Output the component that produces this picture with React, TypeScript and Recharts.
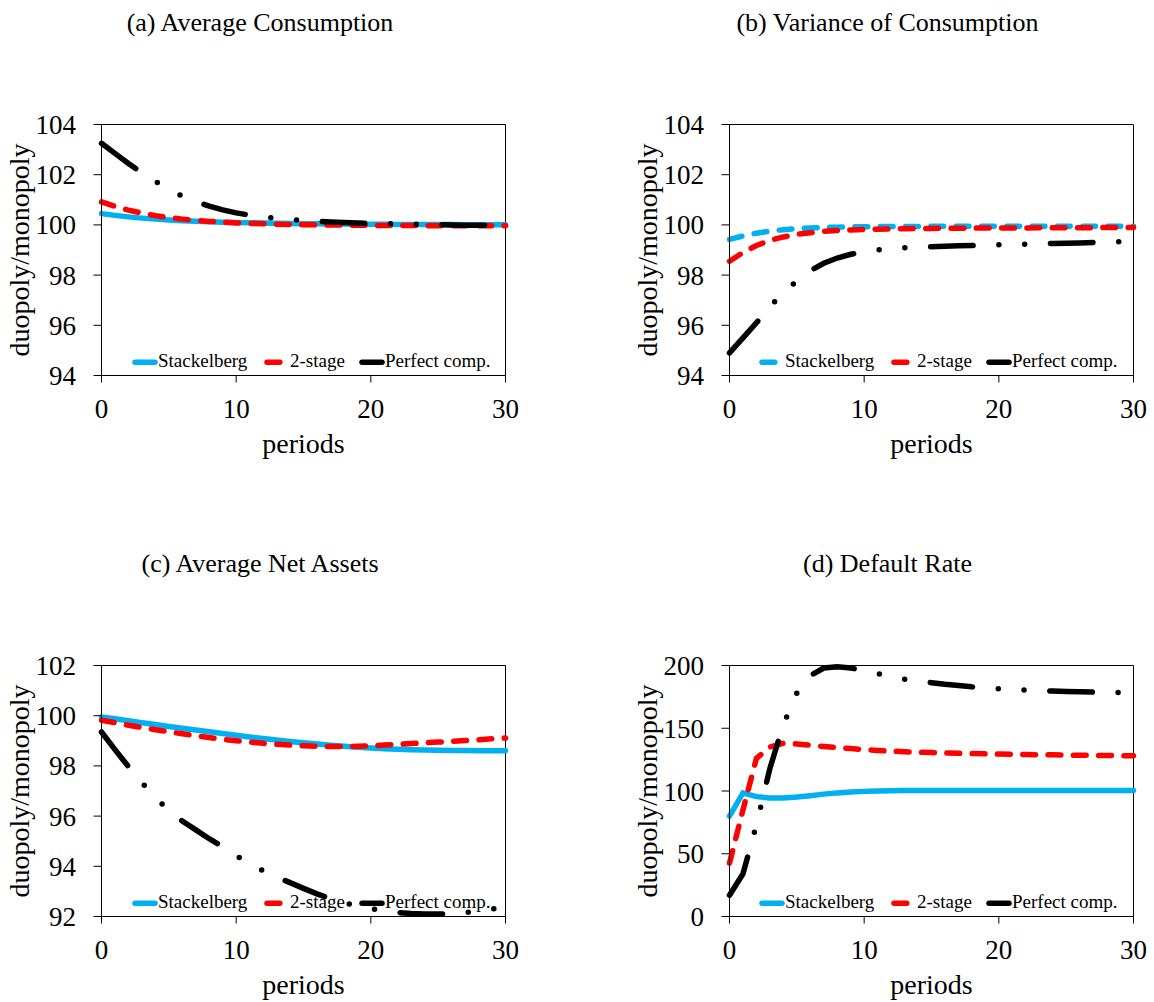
import React from 'react'
import { LineChart, Line, XAxis, YAxis, ReferenceLine, Legend } from 'recharts'

// x axis: periods after the change of market structure
const periods = [0, 1, 2, 3, 4, 5, 6, 7, 8, 9, 10, 11, 12, 13, 14, 15, 16, 17, 18, 19, 20, 21, 22, 23, 24, 25, 26, 27, 28, 29, 30]

// (a) Average Consumption
const consStackelberg = [100.45, 100.38, 100.32, 100.27, 100.23, 100.2, 100.17, 100.15, 100.13, 100.11, 100.1, 100.09, 100.08, 100.07, 100.06, 100.05, 100.05, 100.04, 100.04, 100.03, 100.03, 100.03, 100.02, 100.02, 100.02, 100.02, 100.02, 100.01, 100.01, 100.01, 100.01]
const consTwoStage = [100.92, 100.74, 100.59, 100.47, 100.37, 100.29, 100.23, 100.18, 100.14, 100.11, 100.08, 100.06, 100.05, 100.03, 100.02, 100.01, 100.0, 100.0, 99.99, 99.99, 99.98, 99.98, 99.98, 99.98, 99.97, 99.97, 99.97, 99.97, 99.97, 99.97, 99.97]
const consPerfect = [103.25, 102.85, 102.45, 102.07, 101.73, 101.42, 101.15, 100.93, 100.75, 100.6, 100.48, 100.39, 100.32, 100.26, 100.21, 100.18, 100.15, 100.12, 100.1, 100.08, 100.06, 100.05, 100.04, 100.03, 100.02, 100.01, 100.0, 99.99, 99.99, 99.98, 99.98]

// (b) Variance of Consumption
const varStackelberg = [99.42, 99.56, 99.67, 99.75, 99.81, 99.85, 99.88, 99.9, 99.91, 99.92, 99.93, 99.93, 99.94, 99.94, 99.94, 99.95, 99.95, 99.95, 99.95, 99.95, 99.95, 99.95, 99.95, 99.95, 99.95, 99.95, 99.95, 99.95, 99.95, 99.95, 99.95]
const varTwoStage = [98.55, 98.9, 99.18, 99.38, 99.52, 99.62, 99.69, 99.74, 99.78, 99.8, 99.82, 99.83, 99.84, 99.85, 99.86, 99.86, 99.87, 99.87, 99.87, 99.88, 99.88, 99.88, 99.88, 99.89, 99.89, 99.89, 99.89, 99.89, 99.9, 99.9, 99.9]
const varPerfect = [94.9, 95.5, 96.1, 96.75, 97.3, 97.77, 98.17, 98.47, 98.68, 98.83, 98.93, 99.0, 99.05, 99.09, 99.11, 99.13, 99.15, 99.17, 99.18, 99.2, 99.21, 99.22, 99.23, 99.25, 99.26, 99.27, 99.28, 99.3, 99.31, 99.33, 99.34]

// (c) Average Net Assets
const assetsStackelberg = [99.95, 99.88, 99.8, 99.72, 99.65, 99.57, 99.5, 99.43, 99.36, 99.29, 99.22, 99.15, 99.09, 99.03, 98.97, 98.92, 98.87, 98.82, 98.78, 98.74, 98.71, 98.68, 98.66, 98.64, 98.63, 98.62, 98.61, 98.61, 98.6, 98.6, 98.6]
const assetsTwoStage = [99.82, 99.72, 99.62, 99.53, 99.44, 99.36, 99.28, 99.2, 99.13, 99.06, 99.0, 98.95, 98.9, 98.86, 98.83, 98.8, 98.78, 98.77, 98.77, 98.78, 98.8, 98.83, 98.86, 98.89, 98.92, 98.95, 98.98, 99.01, 99.04, 99.08, 99.11]
const assetsPerfect = [99.35, 98.65, 97.97, 97.33, 96.75, 96.22, 95.8, 95.45, 95.1, 94.78, 94.43, 94.1, 93.82, 93.57, 93.35, 93.12, 92.9, 92.71, 92.55, 92.42, 92.31, 92.23, 92.16, 92.12, 92.1, 92.1, 92.11, 92.15, 92.22, 92.3, 92.4]

// (d) Default Rate
const defaultStackelberg = [80, 98.5, 95.5, 94.5, 94.4, 95.2, 96.3, 97.5, 98.5, 99.2, 99.7, 100, 100.2, 100.3, 100.4, 100.4, 100.4, 100.4, 100.4, 100.4, 100.4, 100.4, 100.4, 100.4, 100.4, 100.4, 100.4, 100.4, 100.4, 100.4, 100.4]
const defaultTwoStage = [42.5, 85, 126, 135, 138, 137.5, 136.5, 135.5, 134.5, 133.8, 133, 132.3, 131.8, 131.3, 130.9, 130.6, 130.3, 130, 129.8, 129.6, 129.4, 129.2, 129, 128.9, 128.8, 128.6, 128.5, 128.4, 128.3, 128.2, 128.1]
const defaultPerfect = [17, 34, 73, 118, 153, 178, 192, 198, 199, 198, 196, 193.5, 191, 189, 187.5, 186.3, 185, 184, 183, 182.2, 181.5, 181, 180.5, 180, 179.6, 179.3, 179, 178.8, 178.6, 178.5, 178.3]

const xTicks = [0, 10, 20, 30]
const ticksConsumption = [94, 96, 98, 100, 102, 104]
const ticksAssets = [92, 94, 96, 98, 100, 102]
const ticksDefault = [0, 50, 100, 150, 200]

const FONT = 'Liberation Serif, Times New Roman, serif'
const CYAN = '#00B0F0'
const RED = '#FF0000'
const BLACK = '#000000'
const DASH = '12.8 12.5'
const LONG_DASH_DOT_DOT = '42.5 25.8 0 25.8 0 25.8'
const LINE_W = 5.5

// plot box inside each panel
const W = 540
const H = 470
const PLOT_LEFT = 101.5
const PLOT_RIGHT = 505.5
const PLOT_TOP = 124.5
const PLOT_BOTTOM = 375.5

const serif = { fontFamily: FONT }

type PanelProps = {
  title: string
  left: number
  top: number
  yTicks: number[]
  stackelberg: number[]
  twoStage: number[]
  perfect: number[]
  stackelbergDash?: string
}

function Panel({ title, left, top, yTicks, stackelberg, twoStage, perfect, stackelbergDash }: PanelProps) {
  const data = periods.map((p, i) => ({
    period: p,
    stackelberg: stackelberg[i],
    twoStage: twoStage[i],
    perfect: perfect[i],
  }))
  const yMin = yTicks[0]
  const yMax = yTicks[yTicks.length - 1]
  const midY = (PLOT_TOP + PLOT_BOTTOM) / 2

  const series = [
    { name: 'Stackelberg', color: CYAN, dash: stackelbergDash, x: 33 },
    { name: '2-stage', color: RED, dash: DASH, x: 165 },
    { name: 'Perfect comp.', color: BLACK, dash: LONG_DASH_DOT_DOT, x: 260 },
  ]

  const renderLegend = () => (
    <svg width={420} height={26} style={{ overflow: 'visible' }}>
      {series.map(s => (
        <g key={s.name}>
          <line
            x1={s.x}
            x2={s.x + 20}
            y1={13.2}
            y2={13.2}
            stroke={s.color}
            strokeWidth={LINE_W}
            strokeLinecap="round"
            strokeDasharray={s.dash}
          />
          <text x={s.x + 23} y={18} fontSize={19} fill="#000" style={serif}>
            {s.name}
          </text>
        </g>
      ))}
    </svg>
  )

  return (
    <div style={{ position: 'absolute', left, top, width: W, height: H }}>
      <div
        style={{
          position: 'absolute',
          left: 0,
          top: 7.7,
          width: 520,
          textAlign: 'center',
          fontFamily: FONT,
          fontSize: 26,
          lineHeight: '30px',
          color: '#000',
        }}
      >
        {title}
      </div>
      <LineChart
        width={W}
        height={H}
        data={data}
        style={serif}
        margin={{ top: PLOT_TOP, right: W - PLOT_RIGHT, bottom: H - PLOT_BOTTOM - 60, left: PLOT_LEFT - 80 }}
      >
        <XAxis
          dataKey="period"
          type="number"
          domain={[0, 30]}
          ticks={xTicks}
          interval={0}
          height={60}
          tickSize={7}
          tickMargin={16}
          axisLine={{ stroke: '#000' }}
          tickLine={{ stroke: '#000' }}
          tick={{ fill: '#000', fontSize: 27, style: serif }}
          label={() => (
            <text
              x={(PLOT_LEFT + PLOT_RIGHT) / 2}
              y={PLOT_BOTTOM + 77}
              textAnchor="middle"
              fontSize={28}
              fill="#000"
              style={serif}
            >
              periods
            </text>
          )}
        />
        <YAxis
          type="number"
          domain={[yMin, yMax]}
          ticks={yTicks}
          interval={0}
          width={80}
          tickSize={8}
          tickMargin={17.5}
          axisLine={{ stroke: '#000' }}
          tickLine={{ stroke: '#000' }}
          tick={{ fill: '#000', fontSize: 27, style: serif }}
          label={() => (
            <text
              x={28.5}
              y={midY}
              transform={`rotate(-90 28.5 ${midY})`}
              textAnchor="middle"
              fontSize={28}
              fill="#000"
              style={serif}
            >
              duopoly/monopoly
            </text>
          )}
        />
        <ReferenceLine y={yMax} stroke="#000" strokeWidth={1} />
        <ReferenceLine x={30} stroke="#000" strokeWidth={1} />
        <Legend
          layout="vertical"
          align="center"
          verticalAlign="middle"
          content={renderLegend}
          wrapperStyle={{ left: PLOT_LEFT, top: PLOT_BOTTOM - 26.5, width: 420, height: 26 }}
        />
        <Line
          dataKey="stackelberg"
          name="Stackelberg"
          type="linear"
          stroke={CYAN}
          strokeWidth={LINE_W}
          strokeLinecap="round"
          strokeDasharray={stackelbergDash}
          dot={false}
          activeDot={false}
          isAnimationActive={false}
        />
        <Line
          dataKey="twoStage"
          name="2-stage"
          type="linear"
          stroke={RED}
          strokeWidth={LINE_W}
          strokeLinecap="round"
          strokeDasharray={DASH}
          dot={false}
          activeDot={false}
          isAnimationActive={false}
        />
        <Line
          dataKey="perfect"
          name="Perfect comp."
          type="linear"
          stroke={BLACK}
          strokeWidth={LINE_W}
          strokeLinecap="round"
          strokeDasharray={LONG_DASH_DOT_DOT}
          dot={false}
          activeDot={false}
          isAnimationActive={false}
        />
      </LineChart>
    </div>
  )
}

export default function App() {
  return (
    <div style={{ position: 'absolute', left: 0, top: 0, width: 1154, height: 1002, background: '#fff' }}>
      <Panel
        title="(a) Average Consumption"
        left={0}
        top={0}
        yTicks={ticksConsumption}
        stackelberg={consStackelberg}
        twoStage={consTwoStage}
        perfect={consPerfect}
      />
      <Panel
        title="(b) Variance of Consumption"
        left={627.5}
        top={0}
        yTicks={ticksConsumption}
        stackelberg={varStackelberg}
        twoStage={varTwoStage}
        perfect={varPerfect}
        stackelbergDash={DASH}
      />
      <Panel
        title="(c) Average Net Assets"
        left={0}
        top={541}
        yTicks={ticksAssets}
        stackelberg={assetsStackelberg}
        twoStage={assetsTwoStage}
        perfect={assetsPerfect}
      />
      <Panel
        title="(d) Default Rate"
        left={627.5}
        top={541}
        yTicks={ticksDefault}
        stackelberg={defaultStackelberg}
        twoStage={defaultTwoStage}
        perfect={defaultPerfect}
      />
    </div>
  )
}
